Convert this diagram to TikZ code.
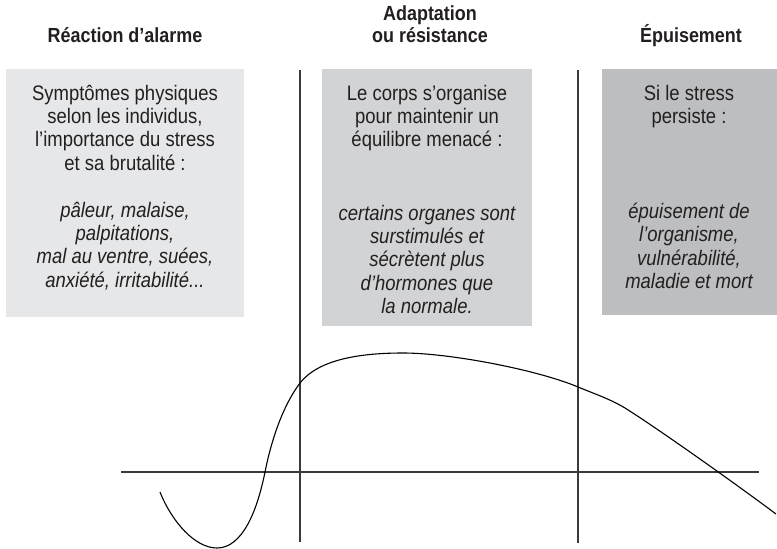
\documentclass[tikz,border=0pt]{standalone}
\usepackage{fontspec}
\setmainfont[FakeStretch=0.88]{Liberation Sans}
\definecolor{boxA}{HTML}{E6E7E8}
\definecolor{boxB}{HTML}{D1D3D4}
\definecolor{boxC}{HTML}{BCBEC0}
\definecolor{txt}{HTML}{231F20}
\definecolor{linecol}{HTML}{3A3A3A}
\begin{document}
\begin{tikzpicture}[x=1pt,y=-1pt,
  head/.style={font=\fontsize{20.4}{24}\selectfont\bfseries, text=txt, inner sep=0pt, anchor=base},
  body/.style={font=\fontsize{21}{24}\selectfont, text=txt, inner sep=0pt, anchor=base},
  ital/.style={font=\fontsize{21}{24}\selectfont\itshape, text=txt, inner sep=0pt, anchor=base},
  divider/.style={draw=linecol, line width=1.1pt},
  curvestyle/.style={draw=black, line width=1.1pt}]
\useasboundingbox (0,0) rectangle (777,549);
% panels
\fill[boxA] (6,69) rectangle (244,317);
\fill[boxB] (322,69) rectangle (532,326);
\fill[boxC] (602,69) rectangle (777,315);
% headings
\node[head] (h1) at (125,42) {Réaction d’alarme};
\node[head] (h2a) at (430,20) {Adaptation};
\node[head] (h2b) at (430,42) {ou résistance};
\node[head] (h3) at (691,42) {Épuisement};
% left panel text
\foreach \y/\t [count=\i] in {100/{Symptômes physiques}, 123.4/{selon les individus,}, 146.8/{l’importance du stress}, 170.2/{et sa brutalité :}}
  \node[body] (la\i) at (125,\y) {\t};
\foreach \y/\t [count=\i] in {217/{pâleur, malaise,}, 240.4/{palpitations,}, 263.8/{mal au ventre, suées,}, 287.2/{anxiété, irritabilité...}}
  \node[ital] (lb\i) at (125,\y) {\t};
% middle panel text
\foreach \y/\t [count=\i] in {100/{Le corps s’organise}, 123.4/{pour maintenir un}, 146.8/{équilibre menacé :}}
  \node[body] (ma\i) at (427,\y) {\t};
\foreach \y/\t [count=\i] in {220/{certains organes sont}, 243.4/{surstimulés et}, 266.8/{sécrètent plus}, 290.2/{d’hormones que}, 313.6/{la normale.}}
  \node[ital] (mb\i) at (427,\y) {\t};
% right panel text
\foreach \y/\t [count=\i] in {100/{Si le stress}, 123.4/{persiste :}}
  \node[body] (ra\i) at (689,\y) {\t};
\foreach \y/\t [count=\i] in {218.5/{épuisement de}, 241.9/{l’organisme,}, 265.3/{vulnérabilité,}, 288.7/{maladie et mort}}
  \node[ital] (rb\i) at (689,\y) {\t};
% axis and dividers
\coordinate (v1t) at (300,70);
\coordinate (v1b) at (300,542);
\coordinate (v2t) at (578,70);
\coordinate (v2b) at (578,543);
\coordinate (axl) at (121,472);
\coordinate (axr) at (759,472);
\draw[divider] (v1t) -- (v1b);
\draw[divider] (v2t) -- (v2b);
\draw[divider] (axl) -- (axr);
% curve
\coordinate (c0) at (160,492);
\coordinate (c1) at (217,548);
\coordinate (c2) at (265,472);
\coordinate (c3) at (300,383);
\coordinate (c4) at (403,353);
\coordinate (c5) at (578,387);
\coordinate (c6) at (625,408);
\coordinate (c7) at (776,514);
\draw[curvestyle] (c0)
  .. controls (172,522) and (195,548) .. (c1)
  .. controls (242,548) and (257,512) .. (c2)
  .. controls (271,442) and (282,407) .. (c3)
  .. controls (318,360) and (358,353) .. (c4)
  .. controls (450,353) and (538,370) .. (c5)
  .. controls (595,394) and (610,399) .. (c6)
  .. controls (660,430) and (740,487) .. (c7);
\end{tikzpicture}
\end{document}
